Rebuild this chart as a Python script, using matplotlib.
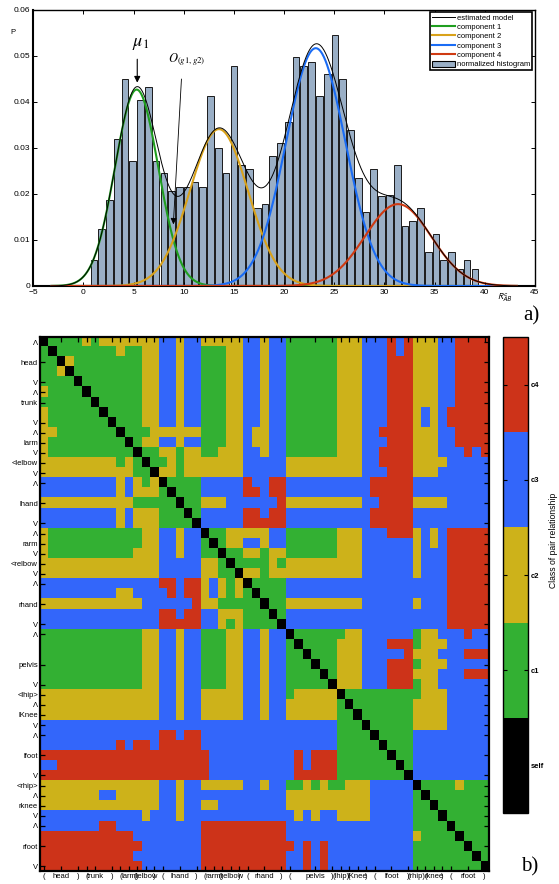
import numpy as np
import matplotlib
matplotlib.use('Agg')
import matplotlib.pyplot as plt
from matplotlib.colors import ListedColormap
from matplotlib.patches import Patch
from matplotlib.lines import Line2D

plt.rcParams['font.family'] = ['Liberation Sans', 'DejaVu Sans']
plt.rcParams['mathtext.fontset'] = 'stix'

# ---------------- (a) histogram of R^c_AB and the fitted mixture ----------------
hist_lo, hist_hi = 0.65, 39.4
hist_heights = [0.0057, 0.0123, 0.0188, 0.0319, 0.0450, 0.0272, 0.0404, 0.0432, 0.0272, 0.0245,
                0.0207, 0.0216, 0.0216, 0.0226, 0.0216, 0.0413, 0.0301, 0.0245, 0.0478, 0.0263,
                0.0254, 0.0169, 0.0178, 0.0282, 0.0310, 0.0357, 0.0497, 0.0478, 0.0488, 0.0413,
                0.0461, 0.0545, 0.0450, 0.0340, 0.0234, 0.0160, 0.0254, 0.0195, 0.0198, 0.0263,
                0.0130, 0.0141, 0.0169, 0.0075, 0.0112, 0.0057, 0.0075, 0.0036, 0.0057, 0.0037]

comp_names = ['component 1', 'component 2', 'component 3', 'component 4']
comp_means = [5.3, 13.5, 23.15, 31.35]
comp_sigmas = [2.15, 2.9, 2.95, 3.3]
comp_peaks = [0.0427, 0.0341, 0.0517, 0.0178]
comp_colors = ['#1f9e1f', '#d9a21a', '#1a6cf5', '#cf3a12']

# ---------------- (b) class of each pair of landmarks ----------------
class_labels = ['self', 'c1', 'c2', 'c3', 'c4']
class_colors = ['#000000', '#33b033', '#cdb21a', '#3366fa', '#cd3319']

part_ticks = [0, 2, 4, 5, 6, 8, 9, 10, 11, 12, 13, 14, 16, 18, 19, 20, 21, 22, 23, 24, 26, 28,
              29, 32, 34, 35, 36, 37, 38, 39, 41, 43, 44, 45, 46, 47, 48, 50, 52]
part_names_y = ['Λ', 'head', 'V', 'Λ', 'trunk', 'V', 'Λ', 'larm', 'V', '<lelbow', 'V',
                'Λ', 'lhand', 'V', 'Λ', 'rarm', 'V', '<relbow', 'V', 'Λ', 'rhand', 'V',
                'Λ', 'pelvis', 'V', '<lhip>', 'Λ', 'lKnee', 'V', 'Λ', 'lfoot', 'V',
                '<rhip>', 'Λ', 'rknee', 'V', 'Λ', 'rfoot', 'V']
part_names_x = ['(', 'head', ')', '(', 'trunk', ')', '(', 'larm', ')', '(lelbow', ')',
                '(', 'lhand', ')', '(', 'rarm', ')', '(relbow', ')', '(', 'rhand', ')',
                '(', 'pelvis', ')', '(lhip)', '(', 'lKnee', ')', '(', 'lfoot', ')',
                '(rhip)', '(', 'rknee', ')', '(', 'rfoot', ')']

# lower triangle, row i holds columns 0..i (0=self, 1..4 = c1..c4)
pair_class_lower = [
    "0",
    "10",
    "110",
    "1120",
    "11110",
    "211110",
    "1111110",
    "21111110",
    "211111110",
    "2211111110",
    "21111111110",
    "211111111110",
    "2222222221210",
    "22222222222110",
    "333333333232120",
    "3333333332322210",
    "22222222222111110",
    "333333333232221110",
    "3333333332322211110",
    "21111111111122332330",
    "211111111111223323310",
    "2111111111122233233110",
    "22222222222222333332210",
    "222222222222223333322110",
    "3333333333333344344232120",
    "33333333322333343442321210",
    "222222222222333333422111110",
    "3333333333333344344332221110",
    "33333333333333444443321211110",
    "111111111111223323311122332330",
    "1111111111112233233111223323310",
    "11111111111122332331112233233110",
    "111111111111223323311122332331110",
    "1111111111112233233111223323311110",
    "11111111111122332331112233233111110",
    "22222222222222332332222233233" "1222220",
    "22222222222222332332222233233" "22222210",
    "22222222222222332332222233233" "222222110",
    "33333333333333333333333333333333333" "1110",
    "33333333333333" "44" "3" "44" "3333333333333333" "11110",
    "333333333" "4" "3" "44" "3" "44444" "3333333333333333" "111110",
    "44444444444444444444" "3333333333" "4" "3" "444" "1111110",
    "33" "444444444444444444" "3333333333" "4" "3" "444" "11111110",
    "44444444444444444444" "3333333333" "44444" "111111110",
    "22222222222222332332222233233" "11" "2" "1" "2" "11" "222" "33333" "0",
    "2222222" "33" "22222" "33" "2" "333333333" "333" "2222222222" "33333" "1" "0",
    "22222222222222" "33" "2" "33" "22" "33333" "333" "2222222222" "33333" "11" "0",
    "333333333333" "2" "333" "2" "333333333" "3333" "2" "3" "2" "33" "2222" "33333" "111" "0",
    "3333333" "44" "3333333333" "4444444444" "333333333333333" "1111" "0",
    "44444444444" "33333333" "4444444444" "333333333333333" "2" "1111" "0",
    "444444444444" "3333333" "44444444444" "3" "4" "3" "4" "3333333333" "111111" "0",
    "44444444444" "33333333" "4444444444" "33" "4" "3" "4" "3333333333" "1111111" "0",
    "444444444444" "3333333" "4444444444" "33" "4" "3" "4" "3333333333" "11111111" "0",
]

W, H = 559, 884
fig = plt.figure(figsize=(W / 100, H / 100), dpi=100)


def px_box(x0, y0, x1, y1):
    return [x0 / W, 1 - y1 / H, (x1 - x0) / W, (y1 - y0) / H]


# ---- top panel
ax = fig.add_axes(px_box(33.3, 10, 535, 286))
nbins = len(hist_heights)
bw = (hist_hi - hist_lo) / nbins
centers = hist_lo + bw * (np.arange(nbins) + 0.5)
hist_face = '#9aafc6'
ax.bar(centers, hist_heights, width=bw * 0.86, color=hist_face, edgecolor='#1a1a1a',
       linewidth=0.7, zorder=1)

xs = np.linspace(-3.3, 43.3, 900)
model = np.zeros_like(xs)
for m, s, p, c in zip(comp_means, comp_sigmas, comp_peaks, comp_colors):
    g = p * np.exp(-(xs - m) ** 2 / (2 * s ** 2))
    model += g
    ax.plot(xs, g, color=c, lw=1.5, zorder=3, solid_capstyle='butt')
ax.plot(xs, model, color='k', lw=0.7, zorder=4)

ax.set_xlim(-5, 45)
ax.set_ylim(0, 0.06)
ax.set_xticks(range(-5, 46, 5))
ax.set_yticks([0, 0.01, 0.02, 0.03, 0.04, 0.05, 0.06])
ax.set_yticklabels(['0', '0.01', '0.02', '0.03', '0.04', '0.05', '0.06'])
ax.tick_params(direction='in', top=True, right=True, length=3, width=0.7,
               labelsize=6, pad=2)
for side in ['left', 'bottom']:
    ax.spines[side].set_linewidth(1.5)
for side in ['top', 'right']:
    ax.spines[side].set_linewidth(1.0)

handles = [Line2D([], [], color='k', lw=0.7)]
handles += [Line2D([], [], color=c, lw=1.5) for c in comp_colors]
handles.append(Patch(facecolor=hist_face, edgecolor='k', linewidth=0.8))
leg = ax.legend(handles, ['estimated model'] + comp_names + ['normalized histogram'],
                loc='upper right', bbox_to_anchor=(0.994, 0.993), borderaxespad=0,
                fontsize=5.5, fancybox=False, framealpha=1, edgecolor='k',
                handlelength=3.0, handleheight=0.9, handletextpad=0.3,
                labelspacing=0.2, borderpad=0.25)
leg.get_frame().set_linewidth(1.2)

ax.text(5.65, 0.0527, r'$\mu_1$', fontsize=13, ha='center', va='center')
ax.annotate('', xy=(5.36, 0.0436), xytext=(5.36, 0.0499),
            arrowprops=dict(arrowstyle='-|>', color='k', lw=0.8, mutation_scale=9))
ax.text(8.4, 0.0493, r'$O_{(g1,g2)}$', fontsize=9, ha='left', va='center')
ax.annotate('', xy=(8.94, 0.0128), xytext=(9.78, 0.0456),
            arrowprops=dict(arrowstyle='-|>', color='k', lw=0.6, mutation_scale=9))

fig.text(13 / W, 1 - 33 / H, 'P', fontsize=5.5, ha='center', va='center')
fig.text(505 / W, 1 - 298 / H, r'$\mathsf{R}^{\mathsf{c}}_{\mathsf{AB}}$', fontsize=6.5,
         ha='center', va='center')
fig.text(531 / W, 1 - 316 / H, 'a)', family='Liberation Serif', fontsize=15,
         ha='center', va='center')

# ---- bottom panel
n = len(pair_class_lower)
pairs = np.zeros((n, n), dtype=int)
for i, row in enumerate(pair_class_lower):
    assert len(row) == i + 1, i
    for j, ch in enumerate(row):
        pairs[i, j] = pairs[j, i] = int(ch)

ax2 = fig.add_axes(px_box(40, 337, 488.9, 871.2))
im = ax2.imshow(pairs, cmap=ListedColormap(class_colors), vmin=-0.5, vmax=4.5,
                aspect='auto', interpolation='nearest')
ax2.set_xticks(part_ticks)
ax2.set_xticklabels(part_names_x)
ax2.set_yticks(part_ticks)
ax2.set_yticklabels(part_names_y)
ax2.tick_params(direction='in', top=True, right=True, length=3.5, width=0.9,
                labelsize=5.5, pad=1.5)
for side in ax2.spines.values():
    side.set_linewidth(1.6)

cax = fig.add_axes(px_box(503.3, 337, 527.7, 813))
cb = fig.colorbar(im, cax=cax, ticks=range(len(class_labels)))
cb.set_ticklabels(class_labels)
cb.outline.set_linewidth(1.0)
cax.tick_params(direction='in', left=True, right=True, length=3, width=0.8,
                labelsize=5.5, pad=2)
for lbl in cax.get_yticklabels():
    lbl.set_fontweight('bold')

fig.text(553 / W, 1 - 540 / H, 'Class of pair relationship', rotation=90,
         fontsize=6.2, ha='center', va='center')
fig.text(530 / W, 1 - 867 / H, 'b)', family='Liberation Serif', fontsize=15,
         ha='center', va='center')

fig.savefig('out.png', dpi=100)
